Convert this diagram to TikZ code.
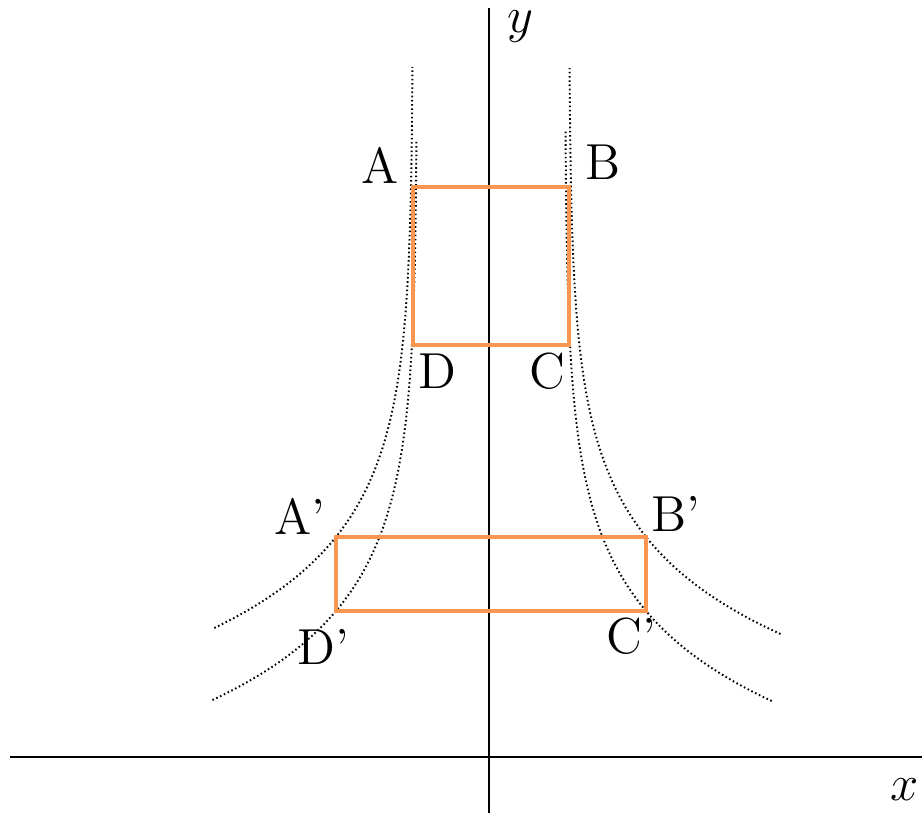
\documentclass[tikz,border=0pt]{standalone}
\usepackage{tikz}
\usepackage{amsmath}
\usepackage[dvipsnames]{xcolor}
\definecolor{rectcol}{RGB}{250,150,80}
\def\kk{1.04}
\tikzset{
  axis/.style={line width=0.7pt, black},
  flowline/.style={line width=0.55pt, dash pattern=on 0.45pt off 0.75pt, black},
  box/.style={line width=1pt, rectcol},
  lbl/.style={font=\Large}
}

\begin{document}
\begin{tikzpicture}
  \useasboundingbox (-4.89,-0.56) rectangle (4.33,7.57);

  \draw[axis] (-4.79,0) -- (4.33,0);
  \draw[axis] (0,-0.56) -- (0,7.49);
  \node[lbl] (xlab) at (4.16,-0.33) {$x$};
  \node[lbl, inner sep=0pt] (ylab) at (0.31,7.30) {$y$};

  % flow lines
  \draw[flowline] plot[domain=1.29:6.90, samples=120] ({-(0.76+7.6*exp(-\kk*\x))}, \x);
  \draw[flowline] plot[domain=0.57:6.17, samples=120] ({-(0.72+3.7*exp(-\kk*\x))}, \x);
  \draw[flowline] plot[domain=1.23:6.89, samples=120] ({0.80+7.6*exp(-\kk*\x)}, \x);
  \draw[flowline] plot[domain=0.56:6.27, samples=120] ({0.76+3.7*exp(-\kk*\x)}, \x);

  % before
  \coordinate (A) at (-0.76,5.70);
  \coordinate (B) at (0.80,5.70);
  \coordinate (C) at (0.80,4.12);
  \coordinate (D) at (-0.76,4.12);
  \draw[box] (A) -- (B) -- (C) -- (D) -- cycle;

  % after
  \coordinate (A2) at (-1.53,2.20);
  \coordinate (B2) at (1.57,2.20);
  \coordinate (C2) at (1.57,1.46);
  \coordinate (D2) at (-1.53,1.46);
  \draw[box] (A2) -- (B2) -- (C2) -- (D2) -- cycle;

  \node[lbl] (labA) at (-1.09,5.92) {A};
  \node[lbl] (labB) at (1.14,5.95) {B};
  \node[lbl] (labC) at (0.58,3.86) {C};
  \node[lbl] (labD) at (-0.52,3.86) {D};
  \node[lbl] (labA2) at (-1.89,2.41) {A'};
  \node[lbl] (labB2) at (1.87,2.43) {B'};
  \node[lbl] (labC2) at (1.42,1.21) {C'};
  \node[lbl] (labD2) at (-1.66,1.10) {D'};
\end{tikzpicture}
\end{document}
